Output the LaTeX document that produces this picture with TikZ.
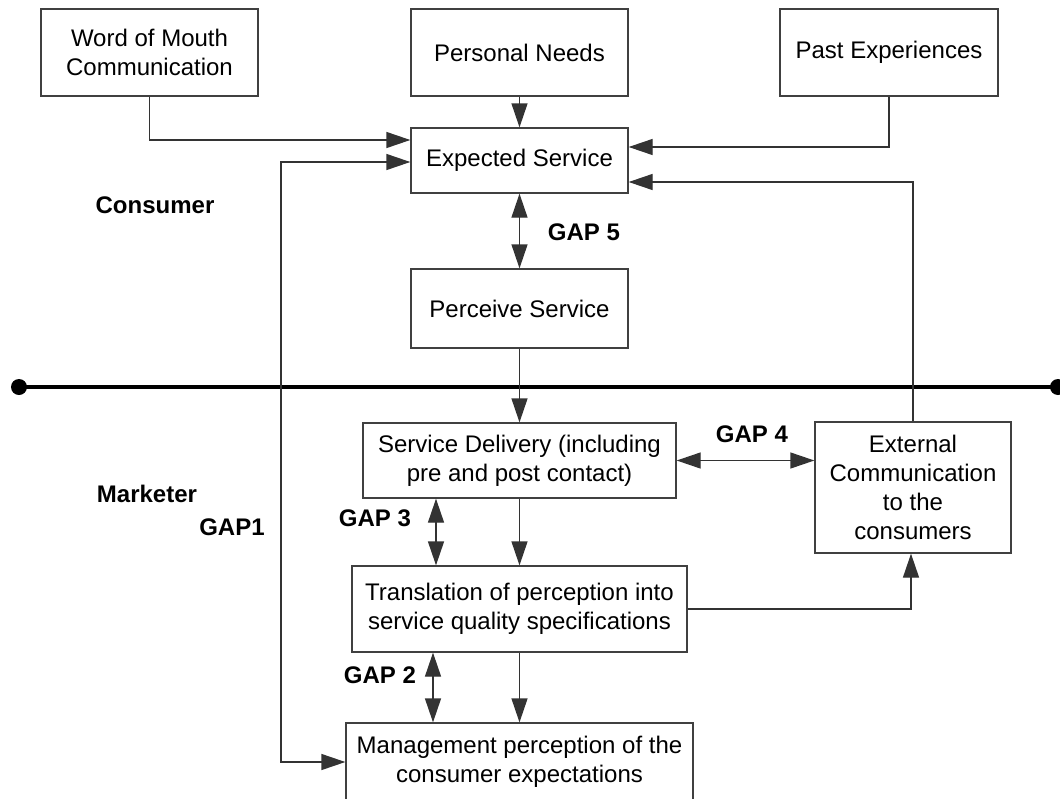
\documentclass[tikz,border=0pt]{standalone}
\usepackage{fontspec}
\setmainfont{Liberation Sans}
\usetikzlibrary{arrows.meta,calc}
\begin{document}
\begin{tikzpicture}[x=1pt,y=-1pt,
  every node/.style={font=\fontsize{24}{29}\selectfont},
  box/.style={draw=black!75,line width=1.3pt,fill=white,align=center,inner sep=0pt},
  link/.style={draw=black!80,line width=1.3pt,-{Triangle[length=24pt,width=16pt]}},
  biline/.style={draw=black!80,line width=1.3pt,{Triangle[length=24pt,width=16pt]}-{Triangle[length=24pt,width=16pt]}},
  gap/.style={font=\fontsize{24}{29}\selectfont\bfseries}]
\useasboundingbox (0,0) rectangle (1060,798);
\clip (0,0) rectangle (1060,798);

% consumer side
\node[box,minimum width=217pt,minimum height=87pt] (wom) at (149.5,52.5) {Word of Mouth\\Communication};
\node[box,minimum width=217pt,minimum height=87pt] (pn) at (519.5,52.5) {Personal Needs};
\node[box,minimum width=218pt,minimum height=87pt] (past) at (889,52.5) {Past Experiences};
\node[box,minimum width=217pt,minimum height=65pt] (es) at (519.5,160.5) {Expected Service};
\node[box,minimum width=217pt,minimum height=79pt] (ps) at (519.5,308.5) {Perceive Service};

% marketer side
\node[box,minimum width=313pt,minimum height=75pt] (sd) at (519.5,460.5) {Service Delivery (including\\pre and post contact)};
\node[box,minimum width=196pt,minimum height=131pt] (ec) at (913,487.5) {External\\Communication\\to the\\consumers};
\node[box,minimum width=335pt,minimum height=86pt] (tr) at (519.5,609) {Translation of perception into\\service quality specifications};
\node[box,minimum width=347pt,minimum height=78pt] (mg) at (519.5,762) {Management perception of the\\consumer expectations};

% dividing line
\coordinate (lineL) at (19,387);
\coordinate (lineR) at (1058,387);
\draw[line width=4pt] (lineL) -- (lineR);
\fill (lineL) circle (8pt);
\fill (lineR) circle (8pt);

% labels
\node[gap] (consumer) at (155,205) {Consumer};
\node[gap] (marketer) at (147,494) {Marketer};
\node[gap] (g1) at (232,527) {GAP1};
\node[gap] (g5) at (584,232) {GAP 5};
\node[gap] (g4) at (752,434) {GAP 4};
\node[gap] (g3) at (375,518) {GAP 3};
\node[gap] (g2) at (380,675) {GAP 2};

% connectors
\coordinate (wy) at (0,140);
\coordinate (gy) at (0,162);
\coordinate (py) at (0,147);
\coordinate (ey) at (0,182);
\coordinate (gapone) at (281,162);
\coordinate (x3) at (436,0);
\coordinate (x2) at (433,0);

\draw[link] (wom.south) |- (es.west |- wy);
\draw[link] (pn.south) -- (es.north);
\draw[link] (past.south) |- (es.east |- py);
\draw[link] (ec.north) |- (es.east |- ey);
\draw[biline] (es.west |- gy) -- (gapone) |- (mg.west);
\draw[biline] (es.south) -- (ps.north);
\draw[link] (ps.south) -- (sd.north);
\draw[biline] (sd.east) -- (ec.west |- sd.east);
\draw[link] (sd.south) -- (tr.north);
\draw[biline] (sd.south -| x3) -- (tr.north -| x3);
\draw[link] (tr.east) -| ([xshift=-2pt]ec.south);
\draw[link] (tr.south) -- (mg.north);
\draw[biline] (tr.south -| x2) -- (mg.north -| x2);
\end{tikzpicture}
\end{document}
